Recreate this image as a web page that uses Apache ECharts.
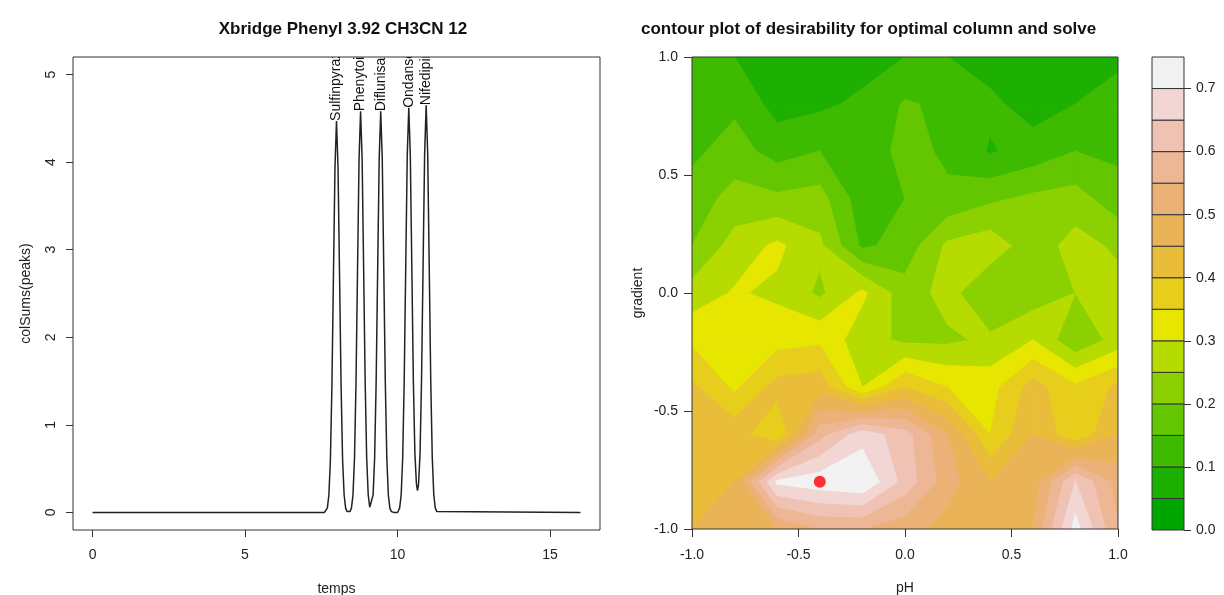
<!DOCTYPE html>
<html><head><meta charset="utf-8">
<script src="https://cdn.jsdelivr.net/npm/echarts@6/dist/echarts.min.js"></script>
<style>html,body{margin:0;padding:0;background:#fff}#c{width:1224px;height:595px}</style>
</head><body><div id="c"></div>
<script>
// ---------- Left chart: chromatogram ----------
const temps = [0, 7.5, 7.6, 7.7, 7.75, 7.8, 7.85, 7.9, 7.95, 8.0, 8.05, 8.1, 8.15, 8.2, 8.25, 8.3, 8.35, 8.4,
  8.44, 8.49, 8.54, 8.59, 8.64, 8.69, 8.74, 8.79, 8.84, 8.89, 8.94, 8.99, 9.04, 9.09, 9.12,
  9.15, 9.2, 9.25, 9.3, 9.35, 9.4, 9.45, 9.5, 9.55, 9.6, 9.65, 9.7, 9.75, 9.8, 9.9, 10.0,
  10.07, 10.12, 10.17, 10.22, 10.27, 10.32, 10.37, 10.42, 10.47, 10.52, 10.57, 10.62, 10.655, 10.69,
  10.74, 10.79, 10.84, 10.89, 10.94, 10.99, 11.04, 11.09, 11.14, 11.19, 11.24, 11.29, 11.35, 16];
const colSums = [0, 0, 0, 0.05, 0.2, 0.6, 1.45, 2.71, 3.94, 4.47, 3.94, 2.71, 1.45, 0.6, 0.2, 0.05, 0.01, 0,
  0.01, 0.05, 0.2, 0.62, 1.49, 2.78, 4.04, 4.58, 4.04, 2.78, 1.49, 0.62, 0.2, 0.06, 0.04,
  0.06, 0.2, 0.62, 1.49, 2.78, 4.04, 4.58, 4.04, 2.78, 1.49, 0.62, 0.2, 0.05, 0.01, 0, 0,
  0.05, 0.2, 0.62, 1.5, 2.8, 4.08, 4.62, 4.08, 2.8, 1.5, 0.68, 0.33, 0.25, 0.32,
  0.68, 1.55, 2.85, 4.1, 4.65, 4.1, 2.82, 1.51, 0.63, 0.2, 0.05, 0.01, 0, 0];
const peakNames = ['Sulfinpyrazone', 'Phenytoin', 'Diflunisal', 'Ondansetron', 'Nifedipine'];
const peakTemps = [8.0, 8.79, 9.45, 10.37, 10.94];
const peakHeights = [4.47, 4.58, 4.58, 4.62, 4.65];
const leftXTicks = [0, 5, 10, 15];
const leftYTicks = [0, 1, 2, 3, 4, 5];

// ---------- Right chart: desirability contour ----------
const pH = [-1, -0.8, -0.6, -0.4, -0.2, 0, 0.2, 0.4, 0.6, 0.8, 1];
const gradient = [1, 0.8, 0.6, 0.4, 0.2, 0, -0.2, -0.4, -0.6, -0.8, -1];
const zGrad1p0  = [0.10, 0.10, 0.08, 0.07, 0.08, 0.10, 0.10, 0.08, 0.06, 0.08, 0.09];
const zGrad0p8  = [0.12, 0.14, 0.08, 0.09, 0.11, 0.155, 0.14, 0.11, 0.08, 0.10, 0.12];
const zGrad0p6  = [0.14, 0.17, 0.13, 0.15, 0.11, 0.17, 0.14, 0.095, 0.12, 0.15, 0.14];
const zGrad0p4  = [0.17, 0.22, 0.21, 0.22, 0.12, 0.15, 0.16, 0.19, 0.21, 0.22, 0.17];
const zGrad0p2  = [0.20, 0.27, 0.31, 0.26, 0.14, 0.17, 0.26, 0.28, 0.22, 0.27, 0.24];
const zGrad0p0  = [0.27, 0.305, 0.29, 0.24, 0.31, 0.22, 0.27, 0.20, 0.22, 0.25, 0.27];
const zGradM0p2 = [0.34, 0.34, 0.33, 0.34, 0.27, 0.24, 0.24, 0.26, 0.30, 0.21, 0.27];
const zGradM0p4 = [0.41, 0.34, 0.42, 0.43, 0.30, 0.40, 0.35, 0.33, 0.42, 0.36, 0.41];
const zGradM0p6 = [0.42, 0.43, 0.345, 0.58, 0.68, 0.62, 0.50, 0.35, 0.45, 0.36, 0.45];
const zGradM0p8 = [0.43, 0.45, 0.71, 0.73, 0.745, 0.63, 0.52, 0.45, 0.47, 0.65, 0.53];
const zGradM1p0 = [0.45, 0.47, 0.50, 0.55, 0.55, 0.52, 0.48, 0.45, 0.50, 0.72, 0.55];
const levels = [0, 0.05, 0.1, 0.15, 0.2, 0.25, 0.3, 0.35, 0.4, 0.45, 0.5, 0.55, 0.6, 0.65, 0.7, 0.75];
const bandColors = ['#00A600', '#1DB000', '#3EBB00', '#63C600', '#8BD000', '#B6DB00', '#E6E600',
  '#E7CE1D', '#E9BD3A', '#EAB358', '#ECB176', '#EDB694', '#EFC2B3', '#F1D6D3', '#F2F2F2'];
const optimum = [-0.4, -0.8];

// ---------- build ----------
const zRows = [zGrad1p0, zGrad0p8, zGrad0p6, zGrad0p4, zGrad0p2, zGrad0p0, zGradM0p2, zGradM0p4, zGradM0p6, zGradM0p8, zGradM1p0];
const FONT = 'Liberation Sans, Arial, sans-serif';
const lineData = temps.map((t, i) => [t, colSums[i]]);
const peakData = peakTemps.map((t, i) => [t, peakHeights[i], i]);
const cells = [];
for (let j = 0; j < gradient.length - 1; j++)
  for (let i = 0; i < pH.length - 1; i++) cells.push([pH[i], gradient[j], i, j]);
const bandData = bandColors.map((c, k) => [0.5, levels[k], k, levels[k + 1]]);

function clipPoly(poly, level, keepAbove) {
  const out = [];
  for (let n = 0; n < poly.length; n++) {
    const a = poly[n], b = poly[(n + 1) % poly.length];
    const ina = keepAbove ? a[2] >= level : a[2] <= level;
    const inb = keepAbove ? b[2] >= level : b[2] <= level;
    if (ina) out.push(a);
    if (ina !== inb) {
      const t = (level - a[2]) / (b[2] - a[2]);
      out.push([a[0] + t * (b[0] - a[0]), a[1] + t * (b[1] - a[1]), level]);
    }
  }
  return out;
}

const lblStyle = { color: '#222', fontFamily: FONT, fontSize: 14 };
const nameStyle = { color: '#222', fontFamily: FONT, fontSize: 14 };
const tickLine = { color: '#333', width: 1 };

const option = {
  animation: false,
  backgroundColor: '#fff',
  title: [
    { text: 'Xbridge Phenyl 3.92 CH3CN 12', left: 338, top: 16, textAlign: 'center',
      textStyle: { fontFamily: FONT, fontWeight: 'bold', fontSize: 17, color: '#111' } },
    { text: 'contour plot of desirability for optimal column and solvent', left: 636, top: 16,
      textStyle: { fontFamily: FONT, fontWeight: 'bold', fontSize: 17, color: '#111',
        width: 466, overflow: 'truncate', ellipsis: '' } }
  ],
  grid: [
    { left: 73, top: 57, width: 527, height: 473, show: true, borderColor: '#333', borderWidth: 1,
      backgroundColor: 'transparent', containLabel: false, outerBoundsMode: 'none' },
    { left: 692, top: 57, width: 426, height: 472, show: true, borderColor: '#333', borderWidth: 1,
      backgroundColor: 'transparent', z: 3, containLabel: false, outerBoundsMode: 'none' },
    { left: 1152, top: 57, width: 32, height: 473, show: false, containLabel: false, outerBoundsMode: 'none' }
  ],
  xAxis: [
    { gridIndex: 0, type: 'value', min: -0.64, max: 16.64, splitLine: { show: false },
      axisLine: { show: false, onZero: false }, axisTick: { show: true, length: 7, customValues: leftXTicks, lineStyle: tickLine },
      axisLabel: Object.assign({ customValues: leftXTicks, margin: 18 }, lblStyle),
      name: 'temps', nameLocation: 'middle', nameGap: 52, nameTextStyle: nameStyle },
    { gridIndex: 1, type: 'value', min: -1, max: 1, interval: 0.5, splitLine: { show: false },
      axisLine: { show: false, onZero: false }, axisTick: { show: true, length: 8, lineStyle: tickLine },
      axisLabel: Object.assign({ margin: 19, formatter: v => v.toFixed(1), showMinLabel: true, showMaxLabel: true }, lblStyle),
      name: 'pH', nameLocation: 'middle', nameGap: 52, nameTextStyle: nameStyle },
    { gridIndex: 2, type: 'value', min: 0, max: 1, show: false, axisLine: { onZero: false } }
  ],
  yAxis: [
    { gridIndex: 0, type: 'value', min: -0.2, max: 5.2, splitLine: { show: false },
      axisLine: { show: false, onZero: false }, axisTick: { show: true, length: 7, customValues: leftYTicks, lineStyle: tickLine },
      axisLabel: Object.assign({ customValues: leftYTicks, margin: 15, rotate: 90 }, lblStyle),
      name: 'colSums(peaks)', nameLocation: 'middle', nameGap: 40, nameTextStyle: nameStyle },
    { gridIndex: 1, type: 'value', min: -1, max: 1, interval: 0.5, splitLine: { show: false },
      axisLine: { show: false, onZero: false }, axisTick: { show: true, length: 8, lineStyle: tickLine },
      axisLabel: Object.assign({ margin: 14, formatter: v => v.toFixed(1), showMinLabel: true, showMaxLabel: true }, lblStyle),
      name: 'gradient', nameLocation: 'middle', nameGap: 47, nameTextStyle: nameStyle },
    { gridIndex: 2, type: 'value', min: 0, max: 0.75, interval: 0.1, position: 'right', splitLine: { show: false },
      axisLine: { show: false, onZero: false }, axisTick: { show: true, length: 7, lineStyle: tickLine },
      axisLabel: Object.assign({ margin: 12, formatter: v => v.toFixed(1), showMaxLabel: false }, lblStyle) }
  ],
  series: [
    { type: 'line', xAxisIndex: 0, yAxisIndex: 0, data: lineData, showSymbol: false, symbol: 'none',
      lineStyle: { color: '#222', width: 1.5 }, z: 2 },
    { type: 'custom', xAxisIndex: 0, yAxisIndex: 0, data: peakData, clip: true, z: 3,
      renderItem: function (params, api) {
        const p = api.coord([api.value(0), api.value(1)]);
        return { type: 'text', x: p[0], y: p[1], rotation: Math.PI / 2,
          style: { text: peakNames[api.value(2)], align: 'left', verticalAlign: 'middle',
            fontSize: 14, fontFamily: FONT, fill: '#111' } };
      } },
    { type: 'custom', xAxisIndex: 1, yAxisIndex: 1, data: cells, clip: true, z: 1,
      renderItem: function (params, api) {
        const i = api.value(2), j = api.value(3);
        const quad = [
          [pH[i], gradient[j], zRows[j][i]],
          [pH[i + 1], gradient[j], zRows[j][i + 1]],
          [pH[i + 1], gradient[j + 1], zRows[j + 1][i + 1]],
          [pH[i], gradient[j + 1], zRows[j + 1][i]]
        ];
        const children = [];
        for (let k = 0; k < bandColors.length; k++) {
          let poly = clipPoly(quad, levels[k], true);
          if (poly.length < 3) continue;
          poly = clipPoly(poly, levels[k + 1], false);
          if (poly.length < 3) continue;
          children.push({ type: 'polygon',
            shape: { points: poly.map(q => api.coord([q[0], q[1]])) },
            style: { fill: bandColors[k], stroke: bandColors[k], lineWidth: 1.2 } });
        }
        return { type: 'group', children: children };
      } },
    { type: 'scatter', xAxisIndex: 1, yAxisIndex: 1, data: [optimum], symbol: 'circle', symbolSize: 12,
      itemStyle: { color: '#FF0000' }, z: 5 },
    { type: 'custom', xAxisIndex: 2, yAxisIndex: 2, data: bandData, z: 2,
      renderItem: function (params, api) {
        const k = api.value(2);
        const a = api.coord([0, api.value(1)]);
        const b = api.coord([1, api.value(3)]);
        return { type: 'rect', shape: { x: a[0], y: b[1], width: b[0] - a[0], height: a[1] - b[1] },
          style: { fill: bandColors[k], stroke: '#333', lineWidth: 1 } };
      } }
  ]
};
const chart = echarts.init(document.getElementById('c'), null, { renderer: 'canvas' });
chart.setOption(option);
</script></body></html>
